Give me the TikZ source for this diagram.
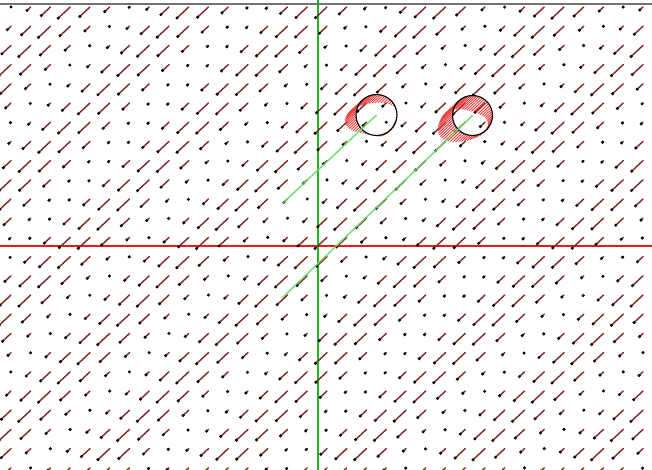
\documentclass[tikz,border=0pt]{standalone}
\usepackage{tikz}
\definecolor{fieldcol}{RGB}{130,38,38}
\definecolor{axisredc}{RGB}{235,25,25}
\definecolor{axisgreenc}{RGB}{35,180,35}
\definecolor{pathgreen}{RGB}{105,220,105}
\definecolor{hatchred}{RGB}{232,60,60}
\tikzset{
  fieldline/.style={draw=fieldcol, line width=1.4pt, line cap=round},
  fielddot/.style={fill=black},
  pathline/.style={draw=pathgreen, line width=1.5pt, opacity=0.9},
  hatchline/.style={draw=hatchred, line width=0.9pt},
  circleline/.style={draw=black, line width=1.1pt}
}
\begin{document}
\begin{tikzpicture}[x=1pt,y=-1pt]
\useasboundingbox (0,0) rectangle (652,470);
\fill[white] (0,0) rectangle (652,470);
% axes as filled bands
\fill[axisredc] (0,244.6) rectangle (652,246.6);
\fill[axisgreenc] (316.5,0) rectangle (318.5,470);
% top border
\fill[black!55] (0,3.5) rectangle (652,4.7);
% vector field
\foreach \k in {0,...,32}{
  \foreach \j in {0,...,24}{
    \pgfmathsetmacro{\px}{11+19.75*\k}
    \pgfmathsetmacro{\py}{7+19.2*\j}
    \pgfmathsetmacro{\s}{abs(sin(28.94*\k+28.62*\j))^1.6}
    \pgfmathsetmacro{\ex}{\px-12*\s}
    \pgfmathsetmacro{\ey}{\py+11.2*\s}
    \draw[fieldline] (\px,\py) -- (\ex,\ey);
    \fill[fielddot] (\ex,\ey) circle (1.7);
  }
}
% hatch around circles
\foreach \cx/\cy/\r in {376.5/115/20.5, 472.5/115.5/20}{
  \foreach \t in {0,6,...,354}{
    \pgfmathsetmacro{\qx}{\cx+\r*cos(\t)}
    \pgfmathsetmacro{\qy}{\cy+\r*sin(\t)}
    \pgfmathsetmacro{\s}{abs(sin(1.4656*((\qx-11)+1.017*(\qy-7))))^1.6}
    \draw[hatchline] (\qx,\qy) -- ++({-14.5*\s},{13.5*\s});
  }
}
% circles
\coordinate (c1) at (376.5,115);
\coordinate (c2) at (472.5,115.5);
\coordinate (s1) at (283,203);
\coordinate (s2) at (282,298);
\draw[circleline] (c1) circle (20.5);
\draw[circleline] (c2) circle (20);
% paths
\draw[pathline] (s1) -- (c1);
\draw[pathline] (s2) -- (c2);
\end{tikzpicture}
\end{document}
